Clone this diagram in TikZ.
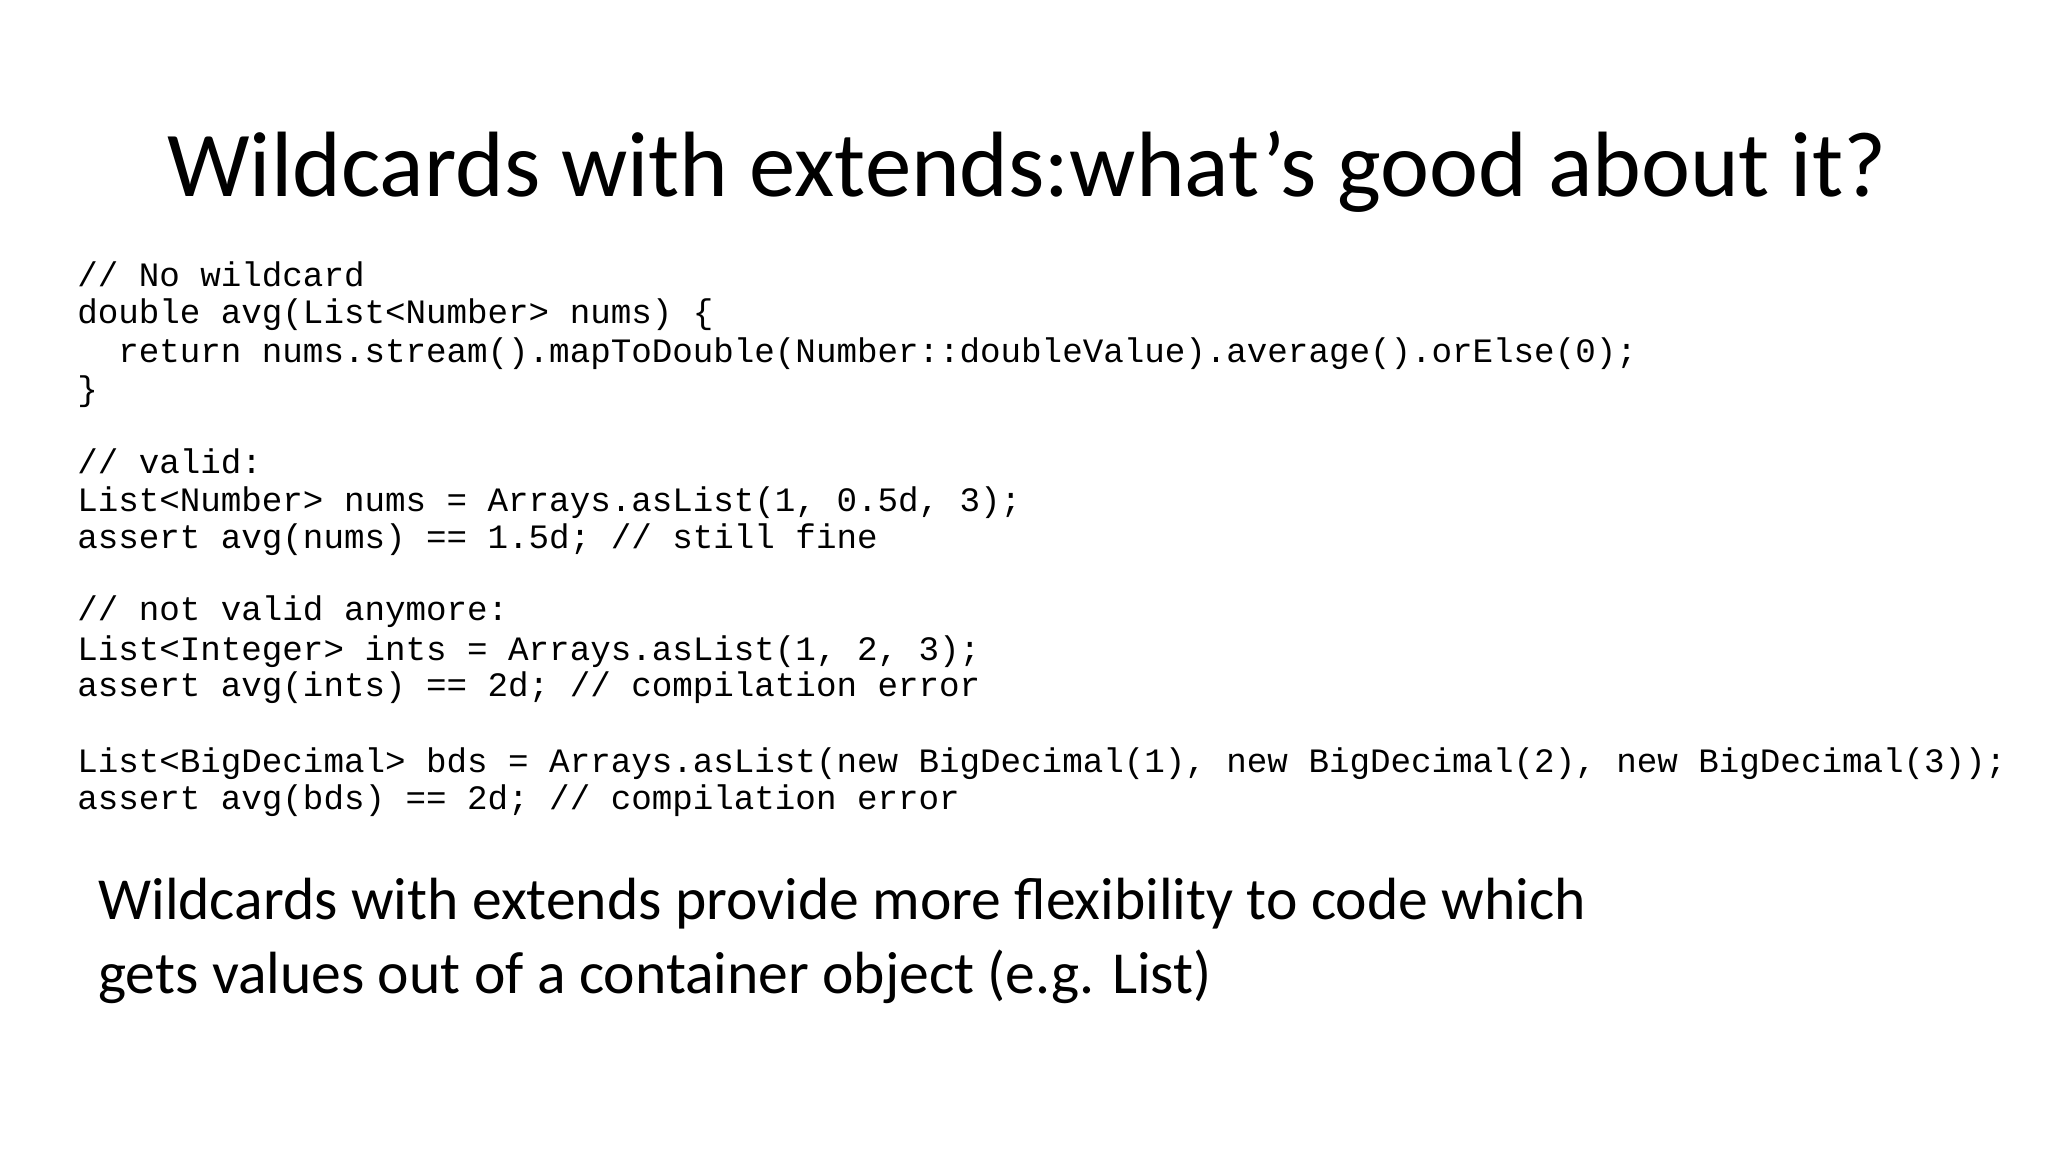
\documentclass[tikz,border=0pt]{standalone}
\usepackage{fontspec}
\setmainfont{Carlito}
\newfontfamily\codefont{Liberation Mono}
\begin{document}
\begin{tikzpicture}[x=0.0132cm,y=-0.0132cm,
  code/.style={anchor=mid west,inner sep=0pt,font=\codefont\fontsize{9.73pt}{11pt}\selectfont},
  titletext/.style={inner sep=0pt,font=\fontsize{26.4pt}{32pt}\selectfont},
  bodytext/.style={anchor=mid west,inner sep=0pt,font=\fontsize{16.95pt}{20pt}\selectfont}]
\useasboundingbox[fill=white] (0,0) rectangle (1551.5,872.7);
\node[titletext] (title) at (778,130) {Wildcards with extends:what’s good about it?};
\node[code] (l1) at (58,211) {// No wildcard};
\node[code] (l2) at (58,239) {double avg(List<Number> nums) \{};
\node[code] (l3) at (58,268) {\ \ return nums.stream().mapToDouble(Number::doubleValue).average().orElse(0);};
\node[code] (l4) at (58,297) {\}};
\node[code] (l5) at (58,352) {// valid:};
\node[code] (l6) at (58,381) {List<Number> nums = Arrays.asList(1, 0.5d, 3);};
\node[code] (l7) at (58,409) {assert avg(nums) == 1.5d; // still fine};
\node[code] (l8) at (58,464) {// not valid anymore:};
\node[code] (l9) at (58,494) {List<Integer> ints = Arrays.asList(1, 2, 3);};
\node[code] (l10) at (58,521) {assert avg(ints) == 2d; // compilation error};
\node[code] (l11) at (58,579) {List<BigDecimal> bds = Arrays.asList(new BigDecimal(1), new BigDecimal(2), new BigDecimal(3));};
\node[code] (l12) at (58,607) {assert avg(bds) == 2d; // compilation error};
\node[bodytext] (b1) at (74,690) {Wildcards with extends provide more flexibility to code which};
\node[bodytext] (b2) at (74,746) {gets values out of a container object (e.g. List)};
\end{tikzpicture}
\end{document}
